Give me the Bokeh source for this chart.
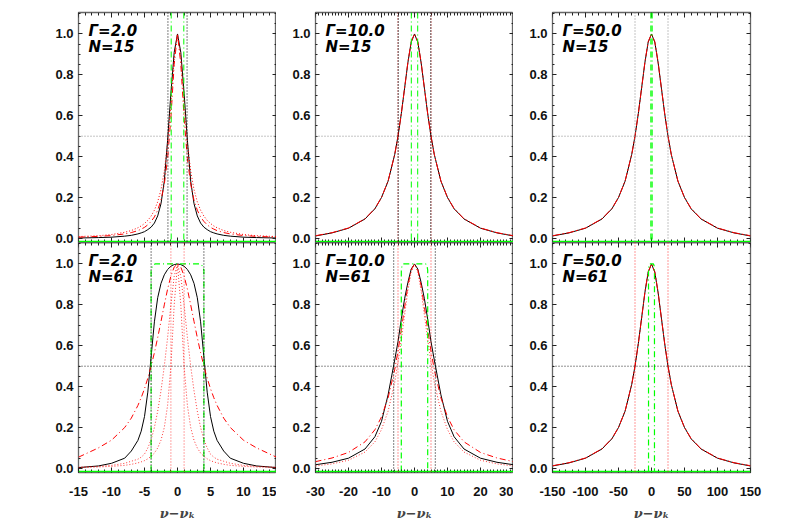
from bokeh.plotting import figure
from bokeh.models import (Range1d, LinearAxis, SingleIntervalTicker, NumeralTickFormatter,
                          Span, Label)
from bokeh.layouts import column, row
from bokeh.embed import file_html
from bokeh.resources import INLINE

# ---------------- data ----------------
GAMMAS = ["2.0", "10.0", "50.0"]
NS = ["15", "61"]
X_RANGES = [(-15, 15), (-30, 30), (-150, 150)]
X_TICK_STEP = [5, 10, 50]
X_MINOR = [5, 10, 5]
Y_RANGE = (-0.02, 1.105)
GREEN_BASE = -0.015
HALF = 0.5
X_TITLE = "ν−νₖ"

X_G2 = [-15, -12, -10, -8, -7, -6, -5.5, -5, -4.5, -4, -3.5, -3, -2.5, -2, -1.5, -1, -0.5, 0,
        0.5, 1, 1.5, 2, 2.5, 3, 3.5, 4, 4.5, 5, 5.5, 6, 7, 8, 10, 12, 15]
X_G10 = [-30, -25, -20, -15, -12, -10, -8, -6, -5, -4, -3, -2, -1, 0,
         1, 2, 3, 4, 5, 6, 8, 10, 12, 15, 20, 25, 30]
X_G50 = [-150, -125, -100, -75, -60, -50, -40, -30, -25, -20, -15, -10, -5, 0,
         5, 10, 15, 20, 25, 30, 40, 50, 60, 75, 100, 125, 150]

# Gamma=2, N=15
A_BLACK = [0.002, 0.004, 0.006, 0.011, 0.015, 0.022, 0.027, 0.033, 0.043, 0.055, 0.075, 0.11, 0.17, 0.28,
           0.48, 0.71, 0.91, 1.0, 0.91, 0.71, 0.48, 0.28, 0.17, 0.11, 0.075, 0.055, 0.043, 0.033, 0.027,
           0.022, 0.015, 0.011, 0.006, 0.004, 0.002]
A_RED_DD = [0.006, 0.010, 0.014, 0.022, 0.0285, 0.038, 0.0455, 0.054, 0.0664, 0.083, 0.105, 0.138, 0.187,
            0.265, 0.39, 0.59, 0.852, 1.0, 0.852, 0.59, 0.39, 0.265, 0.187, 0.138, 0.105, 0.083, 0.0664,
            0.054, 0.0455, 0.038, 0.0285, 0.022, 0.014, 0.010, 0.006]
A_RED_DOT = [0.009, 0.013, 0.019, 0.030, 0.0385, 0.052, 0.0609, 0.073, 0.0883, 0.109, 0.138, 0.179, 0.239,
             0.329, 0.466, 0.662, 0.887, 1.0, 0.887, 0.662, 0.466, 0.329, 0.239, 0.179, 0.138, 0.109,
             0.0883, 0.073, 0.0609, 0.052, 0.0385, 0.030, 0.019, 0.013, 0.009]
A_VL_BLACK = [-1.45, 1.45]
A_VL_GREEN = [-0.95, 0.95]

# Gamma=10, N=15
B_BLACK = [0.012, 0.027, 0.05, 0.095, 0.145, 0.2, 0.28, 0.41, 0.5, 0.61, 0.735, 0.86, 0.96, 1.0,
           0.96, 0.86, 0.735, 0.61, 0.5, 0.41, 0.28, 0.2, 0.145, 0.095, 0.05, 0.027, 0.012]
B_RED = [0.013, 0.028, 0.051, 0.096, 0.146, 0.2, 0.281, 0.41, 0.5, 0.61, 0.735, 0.862, 0.962, 1.0,
         0.962, 0.862, 0.735, 0.61, 0.5, 0.41, 0.281, 0.2, 0.146, 0.096, 0.051, 0.028, 0.013]
B_VL_BLACK = [-4.9, 4.9]
B_VL_RED = [-5.05, 5.05]
B_VL_GREEN = [-0.95, 0.95]

# Gamma=50, N=15
C_BLACK = [0.012, 0.027, 0.05, 0.095, 0.145, 0.2, 0.28, 0.41, 0.5, 0.61, 0.735, 0.86, 0.96, 1.0,
           0.96, 0.86, 0.735, 0.61, 0.5, 0.41, 0.28, 0.2, 0.145, 0.095, 0.05, 0.027, 0.012]
C_RED = [0.013, 0.028, 0.051, 0.096, 0.146, 0.2, 0.281, 0.41, 0.5, 0.61, 0.735, 0.862, 0.962, 1.0,
         0.962, 0.862, 0.735, 0.61, 0.5, 0.41, 0.281, 0.2, 0.146, 0.096, 0.051, 0.028, 0.013]
C_VL_GRAY = [-25, 25]
C_VL_GREEN = [-0.95, 0.95]

# Gamma=2, N=61
D_BLACK = [0.004, 0.012, 0.025, 0.05, 0.085, 0.137, 0.182, 0.254, 0.373, 0.545, 0.717, 0.835, 0.905, 0.947,
           0.973, 0.989, 0.997, 1.0, 0.997, 0.989, 0.973, 0.947, 0.905, 0.835, 0.717, 0.545, 0.373, 0.254,
           0.182, 0.137, 0.085, 0.05, 0.025, 0.012, 0.004]
D_RED_DD = [0.055, 0.1, 0.138, 0.2, 0.246, 0.308, 0.346, 0.39, 0.441, 0.5, 0.566, 0.64, 0.719, 0.8, 0.877,
            0.941, 0.985, 1.0, 0.985, 0.941, 0.877, 0.8, 0.719, 0.64, 0.566, 0.5, 0.441, 0.39, 0.346, 0.308,
            0.246, 0.2, 0.138, 0.1, 0.055]
D_RED_DOT1 = [0.006, 0.01, 0.015, 0.025, 0.035, 0.045, 0.055, 0.07, 0.1, 0.14, 0.2, 0.28, 0.38, 0.5, 0.64,
              0.8, 0.94, 1.0, 0.94, 0.8, 0.64, 0.5, 0.38, 0.28, 0.2, 0.14, 0.1, 0.07, 0.055, 0.045, 0.035,
              0.025, 0.015, 0.01, 0.006]
D_RED_DOT2 = [0.004, 0.007, 0.01, 0.015, 0.02, 0.027, 0.032, 0.038, 0.047, 0.059, 0.075, 0.1, 0.138, 0.2,
              0.308, 0.5, 0.8, 1.0, 0.8, 0.5, 0.308, 0.2, 0.138, 0.1, 0.075, 0.059, 0.047, 0.038, 0.032,
              0.027, 0.02, 0.015, 0.01, 0.007, 0.004]
D_VL_BLACK = [-4.0, 4.0]
D_VL_RED = [-1.0, 1.0]
D_GREEN_X = [-4.0, -4.0, -3.8, -3.4, 3.4, 3.8, 4.0, 4.0]
D_GREEN_Y = [-0.015, 0.97, 0.99, 1.0, 1.0, 0.99, 0.97, -0.015]

# Gamma=10, N=61
E_BLACK = [0.018, 0.03, 0.05, 0.095, 0.155, 0.23, 0.36, 0.53, 0.62, 0.73, 0.83, 0.91, 0.975, 1.0,
           0.975, 0.91, 0.83, 0.73, 0.62, 0.53, 0.36, 0.23, 0.155, 0.095, 0.05, 0.03, 0.018]
E_RED_DD = [0.033, 0.051, 0.078, 0.13, 0.189, 0.252, 0.345, 0.483, 0.574, 0.678, 0.789, 0.894, 0.971, 1.0,
            0.971, 0.894, 0.789, 0.678, 0.574, 0.483, 0.345, 0.252, 0.189, 0.13, 0.078, 0.051, 0.033]
E_RED_DOT = [0.012, 0.022, 0.04, 0.08, 0.13, 0.19, 0.28, 0.42, 0.52, 0.63, 0.75, 0.87, 0.96, 1.0,
             0.96, 0.87, 0.75, 0.63, 0.52, 0.42, 0.28, 0.19, 0.13, 0.08, 0.04, 0.022, 0.012]
E_VL_BLACK = [-6.3, 6.3]
E_VL_RED = [-5.0, 5.0]
E_GREEN_X = [-4.0, -4.0, -3.8, -3.4, 3.4, 3.8, 4.0, 4.0]
E_GREEN_Y = [-0.015, 0.97, 0.99, 1.0, 1.0, 0.99, 0.97, -0.015]

# Gamma=50, N=61
F_BLACK = [0.012, 0.027, 0.05, 0.095, 0.145, 0.2, 0.28, 0.41, 0.5, 0.61, 0.735, 0.86, 0.96, 1.0,
           0.96, 0.86, 0.735, 0.61, 0.5, 0.41, 0.28, 0.2, 0.145, 0.095, 0.05, 0.027, 0.012]
F_RED = [0.013, 0.028, 0.051, 0.096, 0.146, 0.2, 0.281, 0.41, 0.5, 0.61, 0.735, 0.862, 0.962, 1.0,
         0.962, 0.862, 0.735, 0.61, 0.5, 0.41, 0.281, 0.2, 0.146, 0.096, 0.051, 0.028, 0.013]
F_VL_RED = [-25, 25]
F_GREEN_X = [-4.5, -4.5, -4.0, -3.0, 3.0, 4.0, 4.5, 4.5]
F_GREEN_Y = [-0.015, 0.97, 0.99, 1.0, 1.0, 0.99, 0.97, -0.015]

# ---------------- styling ----------------
RED = "#ff0000"
GREEN = "#00ff00"
DOT = "1 2"
DASHDOT = "6 3 1 3"
TICK_FONT = "Liberation Sans"
LAB_FONT = "DejaVu Sans"
OVERLAP = 6


def make_panel(col, rowi):
    xr = X_RANGES[col]
    top = rowi == 0
    p = figure(frame_width=198, frame_height=230,
               x_range=Range1d(*xr), y_range=Range1d(*Y_RANGE),
               x_axis_type=None, y_axis_type=None, title=None,
               output_backend="svg", toolbar_location=None,
               min_border_left=78 if col == 0 else 39,
               min_border_right=0 if col < 2 else 20,
               min_border_top=12 if top else 0,
               min_border_bottom=OVERLAP if top else 40)
    p.outline_line_color = "#666666"
    p.outline_line_width = 1.3
    if top:
        p.background_fill_color = "white"
        p.border_fill_color = "white"
    else:
        p.background_fill_alpha = 0
        p.border_fill_alpha = 0

    def style(ax, show_labels, major_len, minor_len, standoff):
        ax.major_tick_in = major_len
        ax.major_tick_out = 0
        ax.minor_tick_in = minor_len
        ax.minor_tick_out = 0
        ax.axis_line_color = None
        ax.major_tick_line_color = "#222222"
        ax.minor_tick_line_color = "#222222"
        ax.major_label_standoff = standoff
        if show_labels:
            ax.major_label_text_font = TICK_FONT
            ax.major_label_text_font_size = "13px"
            ax.major_label_text_font_style = "bold"
            ax.major_label_text_color = "#111111"
        else:
            ax.major_label_text_font_size = "0px"
            ax.major_label_text_color = None

    xtick = dict(interval=X_TICK_STEP[col], num_minor_ticks=X_MINOR[col])
    if top:
        below = LinearAxis(ticker=SingleIntervalTicker(**xtick), fixed_location=Y_RANGE[0])
        style(below, False, 5, 3, 0)
    else:
        below = LinearAxis(ticker=SingleIntervalTicker(**xtick), formatter=NumeralTickFormatter(format="0"),
                           axis_label=X_TITLE)
        style(below, True, 5, 3, 14)
        below.axis_label_text_font = "DejaVu Serif"
        below.axis_label_text_font_style = "bold italic"
        below.axis_label_text_font_size = "13px"
        below.axis_label_standoff = 7
    above = LinearAxis(ticker=SingleIntervalTicker(**xtick), fixed_location=Y_RANGE[1])
    style(above, False, 5, 3, 0)
    left = LinearAxis(ticker=SingleIntervalTicker(interval=0.2, num_minor_ticks=4),
                      formatter=NumeralTickFormatter(format="0.0"))
    style(left, True, 4, 2, 5)
    right = LinearAxis(ticker=SingleIntervalTicker(interval=0.2, num_minor_ticks=4),
                       fixed_location=xr[1])
    style(right, False, 4, 2, 0)
    p.add_layout(below, "below")
    p.add_layout(above, "above")
    p.add_layout(left, "left")
    p.add_layout(right, "right")

    # half maximum line and green baseline
    p.add_layout(Span(location=HALF, dimension="width", line_color="#888888" if top else "#222222",
                      line_dash=DOT, line_width=1))
    p.add_layout(Span(location=GREEN_BASE, dimension="width", line_color=GREEN, line_width=1.6))

    # panel labels
    p.add_layout(Label(x=xr[0], y=Y_RANGE[1], x_offset=10, y_offset=-18.5, text="Γ=" + GAMMAS[col],
                       text_font=LAB_FONT, text_font_style="bold italic", text_font_size="15px",
                       text_baseline="middle", text_color="black"))
    p.add_layout(Label(x=xr[0], y=Y_RANGE[1], x_offset=10, y_offset=-34.5, text="N=" + NS[rowi],
                       text_font=LAB_FONT, text_font_style="bold italic", text_font_size="15px",
                       text_baseline="middle", text_color="black"))
    return p


def vlines(p, locs, color, dash, width=1.0, alpha=1.0):
    for v in locs:
        p.add_layout(Span(location=v, dimension="height", line_color=color, line_dash=dash,
                          line_width=width, line_alpha=alpha))


# Panel A: Gamma=2, N=15
pA = make_panel(0, 0)
pA.line(X_G2, A_BLACK, line_color="black", line_width=1)
pA.line(X_G2, A_RED_DOT, line_color=RED, line_dash=DOT, line_width=1)
pA.line(X_G2, A_RED_DD, line_color=RED, line_dash=DASHDOT, line_width=1)
vlines(pA, A_VL_BLACK, "black", DOT)
vlines(pA, A_VL_GREEN, GREEN, DASHDOT, 1.2, 0.85)

# Panel B: Gamma=10, N=15
pB = make_panel(1, 0)
pB.line(X_G10, B_BLACK, line_color="black", line_width=1)
pB.line(X_G10, B_RED, line_color=RED, line_dash="8 2 2 2", line_width=1)
vlines(pB, B_VL_RED, "#aa1111", DOT)
vlines(pB, B_VL_BLACK, "black", DOT)
vlines(pB, B_VL_GREEN, GREEN, DASHDOT, 1.2, 0.85)

# Panel C: Gamma=50, N=15
pC = make_panel(2, 0)
pC.line(X_G50, C_BLACK, line_color="black", line_width=1)
pC.line(X_G50, C_RED, line_color=RED, line_dash="8 2 2 2", line_width=1)
vlines(pC, C_VL_GRAY, "#888888", DOT)
vlines(pC, C_VL_GREEN, GREEN, DASHDOT, 1.4, 0.85)

# Panel D: Gamma=2, N=61
pD = make_panel(0, 1)
pD.line(X_G2, D_BLACK, line_color="black", line_width=1)
pD.line(X_G2, D_RED_DOT1, line_color=RED, line_dash=DOT, line_width=1, line_alpha=0.8)
pD.line(X_G2, D_RED_DOT2, line_color=RED, line_dash=DOT, line_width=1, line_alpha=0.8)
pD.line(X_G2, D_RED_DD, line_color=RED, line_dash=DASHDOT, line_width=1)
pD.line(D_GREEN_X, D_GREEN_Y, line_color=GREEN, line_dash=DASHDOT, line_width=1.2)
vlines(pD, D_VL_RED, RED, DOT, 1.0, 0.7)
vlines(pD, D_VL_BLACK, "black", DOT)

# Panel E: Gamma=10, N=61
pE = make_panel(1, 1)
pE.line(X_G10, E_BLACK, line_color="black", line_width=1)
pE.line(X_G10, E_RED_DOT, line_color=RED, line_dash=DOT, line_width=1, line_alpha=0.8)
pE.line(X_G10, E_RED_DD, line_color=RED, line_dash=DASHDOT, line_width=1)
pE.line(E_GREEN_X, E_GREEN_Y, line_color=GREEN, line_dash=DASHDOT, line_width=1.2)
vlines(pE, E_VL_RED, RED, DOT, 1.0, 0.8)
vlines(pE, E_VL_BLACK, "black", DOT)

# Panel F: Gamma=50, N=61
pF = make_panel(2, 1)
pF.line(X_G50, F_BLACK, line_color="black", line_width=1)
pF.line(X_G50, F_RED, line_color=RED, line_dash="8 2 2 2", line_width=1)
pF.line(F_GREEN_X, F_GREEN_Y, line_color=GREEN, line_dash=DASHDOT, line_width=1.2)
vlines(pF, F_VL_RED, RED, DOT, 1.0, 0.8)

top_row = row(pA, pB, pC, spacing=0)
bottom_row = row(pD, pE, pF, spacing=0, margin=(-OVERLAP, 0, 0, 0))
layout = column(top_row, bottom_row, spacing=0)

with open("out.html", "w") as f:
    f.write(file_html(layout, INLINE))
